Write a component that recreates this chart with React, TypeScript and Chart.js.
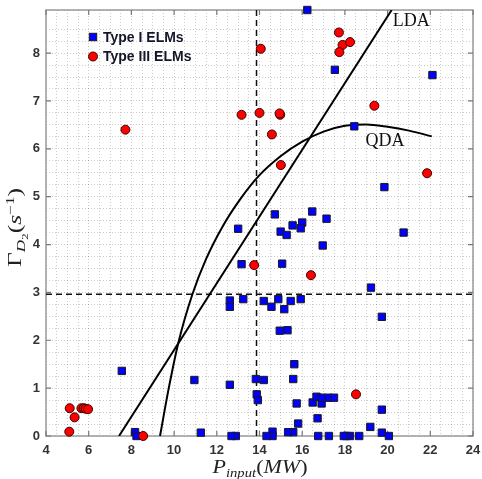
import React, { useEffect, useRef } from 'react';
import { Chart, registerables } from 'chart.js';

Chart.register(...registerables);

// Type I ELMs (blue squares)
const typeIX = [
  16.24, 17.53, 22.10, 18.44, 19.85, 14.72, 16.47, 17.14, 15.55, 16.00,
  15.93, 14.99, 15.27, 13.00, 20.75, 16.96, 13.16, 15.06, 19.22, 12.61,
  12.61, 13.24, 14.20, 14.56, 14.88, 15.16, 15.46, 15.93, 19.73, 14.95,
  15.31, 15.63, 15.58, 7.55, 10.95, 12.61, 13.83, 14.20, 13.87, 13.92,
  15.74, 16.49, 16.91, 16.67, 16.91, 17.22, 17.49, 16.72, 15.81, 19.73,
  19.19, 19.73, 20.06, 18.67, 18.24, 18.08, 17.95, 17.25, 16.75, 15.58,
  15.34, 14.61, 14.61, 14.33, 12.89, 12.69, 11.25, 8.17, 8.24,
];
const typeIY = [
  8.90, 7.65, 7.54, 6.47, 5.20, 4.63, 4.69, 4.54, 4.40, 4.46,
  4.34, 4.27, 4.20, 4.33, 4.25, 3.98, 3.59, 3.60, 3.10, 2.83,
  2.70, 2.86, 2.82, 2.70, 2.86, 2.65, 2.82, 2.86, 2.49, 2.20,
  2.21, 1.50, 1.19, 1.36, 1.17, 1.07, 1.19, 1.17, 0.87, 0.75,
  0.68, 0.70, 0.68, 0.82, 0.80, 0.80, 0.80, 0.37, 0.26, 0.55,
  0.19, 0.07, 0.00, 0.00, 0.00, 0.00, 0.00, 0.00, 0.00, 0.08,
  0.08, 0.09, 0.00, 0.00, 0.00, 0.00, 0.07, 0.08, 0.00,
];

// Type III ELMs (red circles)
const typeIIIX = [
  17.72, 17.89, 18.24, 17.74, 14.06, 19.38, 14.00, 14.97, 14.94, 13.16,
  14.58, 15.00, 21.85, 7.72, 16.41, 13.75, 18.52, 5.11, 5.34, 5.09,
  5.66, 5.77, 5.86, 5.97, 8.55,
];
const typeIIIY = [
  8.43, 8.17, 8.23, 8.02, 8.09, 6.90, 6.75, 6.71, 6.74, 6.71,
  6.30, 5.66, 5.49, 6.40, 3.36, 3.57, 0.87, 0.58, 0.39, 0.09,
  0.58, 0.58, 0.57, 0.56, 0.00,
];

// Decision boundaries
const ldaX = [7.42, 20.19];
const ldaY = [0, 8.9];
const qdaX = [9.34, 9.75, 10.2, 10.85, 11.5, 12.3, 13.1, 14.0, 15.0, 16.0, 17.0, 18.0, 19.0, 20.0, 21.0, 22.07];
const qdaY = [0, 1.0, 1.95, 2.95, 3.7, 4.4, 4.95, 5.45, 5.85, 6.15, 6.36, 6.48, 6.51, 6.46, 6.38, 6.26];

// Threshold lines
const vThreshX = [13.86, 13.86];
const vThreshY = [0, 8.9];
const hThreshX = [4, 24];
const hThreshY = [2.96, 2.96];

const xMajorTicks = [4, 6, 8, 10, 12, 14, 16, 18, 20, 22, 24];
const yMajorTicks = [0, 1, 2, 3, 4, 5, 6, 7, 8];

const legendLabels = ['Type I ELMs', 'Type III ELMs'];

type Piece = { t: string; font: string; dy: number };

function drawRich(ctx: CanvasRenderingContext2D, pieces: Piece[], targetW: number) {
  let total = 0;
  const ws = pieces.map((p) => {
    ctx.font = p.font;
    const w = ctx.measureText(p.t).width;
    total += w;
    return w;
  });
  const sx = targetW / total;
  ctx.save();
  ctx.scale(sx, 1);
  let x = -total / 2;
  ctx.textAlign = 'left';
  ctx.textBaseline = 'alphabetic';
  pieces.forEach((p, i) => {
    ctx.font = p.font;
    ctx.fillText(p.t, x, p.dy);
    x += ws[i];
  });
  ctx.restore();
}

export default function App() {
  const ref = useRef<HTMLCanvasElement>(null);

  useEffect(() => {
    const canvas = ref.current!;
    const pts = (xs: number[], ys: number[]) => xs.map((x, i) => ({ x, y: ys[i] }));
    const serif = '"Liberation Serif", "Times New Roman", serif';
    const sans = '"Liberation Sans", Arial, sans-serif';

    const overlay = {
      id: 'overlay',
      beforeDatasetsDraw(chart: any) {
        const { ctx, chartArea: a, scales } = chart;
        ctx.save();
        ctx.strokeStyle = '#9a9a9a';
        ctx.lineWidth = 1.5;
        ctx.strokeRect(a.left, a.top, a.right - a.left, a.bottom - a.top);
        ctx.lineWidth = 1.2;
        ctx.strokeStyle = '#777';
        ctx.beginPath();
        xMajorTicks.forEach((v) => {
          const px = scales.x.getPixelForValue(v);
          ctx.moveTo(px, a.top);
          ctx.lineTo(px, a.top + 5);
          ctx.moveTo(px, a.bottom);
          ctx.lineTo(px, a.bottom - 5);
        });
        yMajorTicks.forEach((v) => {
          const py = scales.y.getPixelForValue(v);
          ctx.moveTo(a.left, py);
          ctx.lineTo(a.left + 5, py);
          ctx.moveTo(a.right, py);
          ctx.lineTo(a.right - 5, py);
        });
        ctx.stroke();
        ctx.restore();
      },
      afterDraw(chart: any) {
        const { ctx, chartArea: a, scales } = chart;
        ctx.save();
        // Legend
        const lx = a.left + 47;
        const ly1 = a.top + 27;
        const ly2 = a.top + 46.5;
        ctx.fillStyle = '#0000ff';
        ctx.strokeStyle = '#1a1a1a';
        ctx.lineWidth = 1;
        ctx.fillRect(lx - 3.7, ly1 - 3.7, 7.4, 7.4);
        ctx.strokeRect(lx - 3.7, ly1 - 3.7, 7.4, 7.4);
        ctx.beginPath();
        ctx.arc(lx, ly2, 4.5, 0, Math.PI * 2);
        ctx.fillStyle = '#ff0000';
        ctx.fill();
        ctx.strokeStyle = '#400';
        ctx.stroke();
        ctx.fillStyle = '#15152a';
        ctx.font = `bold 14px ${sans}`;
        ctx.textAlign = 'left';
        ctx.textBaseline = 'middle';
        ctx.fillText(legendLabels[0], lx + 10, ly1 + 1);
        ctx.fillText(legendLabels[1], lx + 10, ly2 + 1);

        // LDA / QDA labels
        ctx.fillStyle = '#111';
        ctx.font = `18px ${serif}`;
        ctx.textBaseline = 'alphabetic';
        ctx.fillText('LDA', scales.x.getPixelForValue(20.24), scales.y.getPixelForValue(8.56));
        ctx.fillText('QDA', scales.x.getPixelForValue(18.97), scales.y.getPixelForValue(6.06));

        // X title
        ctx.fillStyle = '#222';
        ctx.save();
        ctx.translate((a.left + a.right) / 2 + 0.5, 473);
        drawRich(
          ctx,
          [
            { t: 'P', font: `italic 18px ${serif}`, dy: 0 },
            { t: 'input', font: `italic 12px ${serif}`, dy: 4 },
            { t: '(', font: `18px ${serif}`, dy: 0 },
            { t: 'MW', font: `italic 18px ${serif}`, dy: 0 },
            { t: ')', font: `18px ${serif}`, dy: 0 },
          ],
          95
        );
        ctx.restore();

        // Y title
        ctx.save();
        ctx.translate(21, 227.5);
        ctx.rotate(-Math.PI / 2);
        drawRich(
          ctx,
          [
            { t: 'Γ', font: `18px ${serif}`, dy: 0 },
            { t: 'D', font: `italic 12px ${serif}`, dy: 4 },
            { t: '2', font: `9px ${serif}`, dy: 7 },
            { t: '(', font: `18px ${serif}`, dy: 0 },
            { t: 's', font: `italic 18px ${serif}`, dy: 0 },
            { t: '−1', font: `12px ${serif}`, dy: -7 },
            { t: ')', font: `18px ${serif}`, dy: 0 },
          ],
          79
        );
        ctx.restore();
        ctx.restore();
      },
    };

    const tickFont = { family: sans, weight: 'bold' as const, size: 13 };

    const chart = new Chart(canvas, {
      type: 'scatter',
      data: {
        datasets: [
          {
            label: 'Type III ELMs',
            data: pts(typeIIIX, typeIIIY),
            pointStyle: 'circle',
            pointRadius: 4.5,
            backgroundColor: '#ff0000',
            borderColor: '#3a0000',
            borderWidth: 1,
            clip: false,
          } as any,
          {
            label: 'Type I ELMs',
            data: pts(typeIX, typeIY),
            pointStyle: 'rect',
            pointRadius: 5.2,
            backgroundColor: '#0000ff',
            borderColor: '#1a1a1a',
            borderWidth: 1,
            clip: false,
          } as any,
          {
            type: 'line',
            label: 'LDA',
            data: pts(ldaX, ldaY),
            borderColor: '#000',
            borderWidth: 2,
            pointRadius: 0,
            fill: false,
          } as any,
          {
            type: 'line',
            label: 'QDA',
            data: pts(qdaX, qdaY),
            borderColor: '#000',
            borderWidth: 2,
            pointRadius: 0,
            fill: false,
            cubicInterpolationMode: 'monotone',
          } as any,
          {
            type: 'line',
            label: 'vthr',
            data: pts(vThreshX, vThreshY),
            borderColor: '#111',
            borderWidth: 1.5,
            borderDash: [6, 4],
            pointRadius: 0,
            fill: false,
          } as any,
          {
            type: 'line',
            label: 'hthr',
            data: pts(hThreshX, hThreshY),
            borderColor: '#111',
            borderWidth: 1.5,
            borderDash: [6, 4],
            pointRadius: 0,
            fill: false,
          } as any,
        ],
      },
      options: {
        responsive: false,
        animation: false,
        events: [],
        layout: { padding: { top: 10, right: 9, left: 0, bottom: 0 } },
        plugins: {
          legend: { display: false },
          tooltip: { enabled: false },
        },
        scales: {
          x: {
            type: 'linear',
            position: 'bottom',
            min: 4,
            max: 24,
            afterFit: (s: any) => {
              s.height = 43;
              s.paddingLeft = 0;
              s.paddingRight = 0;
            },
            grid: { color: 'rgba(0,0,0,0.2)', lineWidth: 1, drawTicks: false },
            border: { display: false, dash: [1, 2] },
            ticks: {
              stepSize: 0.5,
              autoSkip: false,
              maxTicksLimit: 200,
              maxRotation: 0,
              padding: 7,
              color: '#333',
              font: tickFont,
              callback: (v: any) => (Math.abs(v % 2) < 1e-9 ? String(v) : ''),
            },
          },
          y: {
            type: 'linear',
            min: 0,
            max: 8.9,
            afterFit: (s: any) => {
              s.width = 46;
              s.paddingTop = 0;
              s.paddingBottom = 0;
            },
            grid: { color: 'rgba(0,0,0,0.2)', lineWidth: 1, drawTicks: false },
            border: { display: false, dash: [1, 2] },
            ticks: {
              stepSize: 0.25,
              autoSkip: false,
              maxTicksLimit: 200,
              padding: 6,
              color: '#333',
              font: tickFont,
              callback: (v: any) =>
                Math.abs(v - Math.round(v)) < 1e-9 ? String(Math.round(v)) : '',
            },
          },
        },
      },
      plugins: [overlay],
    } as any);

    return () => chart.destroy();
  }, []);

  return (
    <div style={{ position: 'absolute', left: 0, top: 0, width: 482, height: 479, background: '#fff' }}>
      <canvas ref={ref} width={482} height={479} />
    </div>
  );
}
